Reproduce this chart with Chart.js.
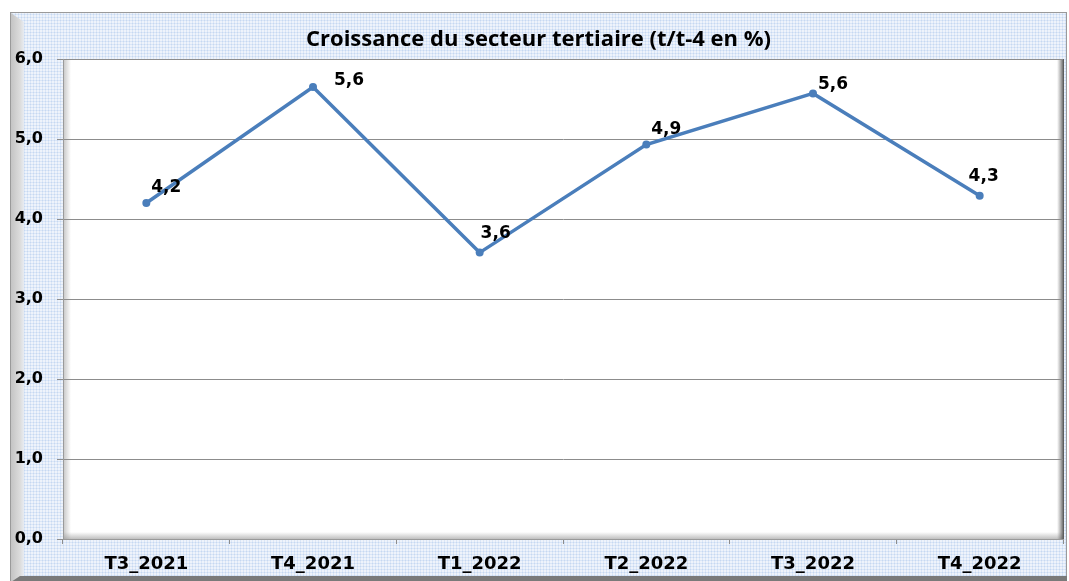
<!DOCTYPE html>
<html>
<head>
<meta charset="utf-8">
<script src="https://cdn.jsdelivr.net/npm/chart.js@4.4.0/dist/chart.umd.min.js"></script>
<style>
  html, body { margin: 0; padding: 0; background: #ffffff; width: 1069px; height: 581px; overflow: hidden; }
  #frame {
    position: absolute; left: 10px; top: 12px; width: 1057px; height: 575px;
    border: 1px solid #9a9a9a; box-sizing: border-box;
    background-color: #eef3fb;
    background-image: radial-gradient(circle, #c6d8f1 0.9px, transparent 1.1px);
    background-size: 3px 3px;
  }
  #leftband {
    position: absolute; left: 11px; top: 13px; width: 13px; height: 570px;
    background: linear-gradient(to right, #c4c4c4, #dcdcdc 70%, #e8ecf2);
    clip-path: polygon(0 0, 100% 9px, 100% 100%, 0 100%);
  }
  #bottomband {
    position: absolute; left: 11px; top: 576px; width: 1056px; height: 6px;
    background: #7a7a7a;
    clip-path: polygon(9px 0, 100% 0, 100% 100%, 0 100%);
  }
  #wrap { position: absolute; left: 0; top: 0; width: 1069px; height: 581px; }
</style>
</head>
<body>
<div id="frame"></div>
<div id="leftband"></div>
<div id="bottomband"></div>
<div id="wrap"><canvas id="c" width="1069" height="581"></canvas></div>
<script>
const categories = ["T3_2021", "T4_2021", "T1_2022", "T2_2022", "T3_2022", "T4_2022"];
const growth = [4.2, 5.65, 3.58, 4.93, 5.57, 4.29];
const valueLabels = ["4,2", "5,6", "3,6", "4,9", "5,6", "4,3"];
const yTicks = [0, 1, 2, 3, 4, 5, 6];
const chartTitle = "Croissance du secteur tertiaire (t/t-4 en %)";

const plotBg = {
  id: 'plotBg',
  beforeDraw(chart) {
    const { ctx, chartArea: a } = chart;
    ctx.save();
    ctx.fillStyle = '#ffffff';
    ctx.fillRect(a.left, a.top, a.right - a.left, a.bottom - a.top);
    let g = ctx.createLinearGradient(a.left, 0, a.left + 8, 0);
    g.addColorStop(0, 'rgba(150,150,150,0.55)');
    g.addColorStop(1, 'rgba(150,150,150,0)');
    ctx.fillStyle = g;
    ctx.fillRect(a.left, a.top, 8, a.bottom - a.top);
    g = ctx.createLinearGradient(0, a.bottom, 0, a.bottom - 7);
    g.addColorStop(0, 'rgba(150,150,150,0.6)');
    g.addColorStop(1, 'rgba(150,150,150,0)');
    ctx.fillStyle = g;
    ctx.fillRect(a.left, a.bottom - 7, a.right - a.left, 7);
    g = ctx.createLinearGradient(a.right - 6, 0, a.right + 1, 0);
    g.addColorStop(0, 'rgba(120,120,120,0)');
    g.addColorStop(1, 'rgba(70,70,70,0.95)');
    ctx.fillStyle = g;
    ctx.fillRect(a.right - 6, a.top, 7, a.bottom - a.top);
    ctx.strokeStyle = '#9a9a9a';
    ctx.lineWidth = 1;
    ctx.beginPath();
    ctx.moveTo(a.left, a.top + 0.5);
    ctx.lineTo(a.right, a.top + 0.5);
    ctx.stroke();
    ctx.restore();
  }
};

const valueLabelPlugin = {
  id: 'valueLabels',
  afterDatasetsDraw(chart, args, opts) {
    const { ctx } = chart;
    const meta = chart.getDatasetMeta(0);
    ctx.save();
    ctx.font = opts.font;
    ctx.fillStyle = opts.color;
    ctx.textAlign = 'center';
    ctx.textBaseline = 'middle';
    meta.data.forEach((pt, i) => {
      const off = opts.offsets[i];
      ctx.fillText(valueLabels[i], pt.x + off[0], pt.y + off[1]);
    });
    ctx.restore();
  }
};

new Chart(document.getElementById('c'), {
  type: 'line',
  data: {
    labels: categories,
    datasets: [{
      data: growth,
      borderColor: '#4a7ebb',
      backgroundColor: '#4a7ebb',
      borderWidth: 3.5,
      pointRadius: 4,
      pointHoverRadius: 4,
      pointBackgroundColor: '#4a7ebb',
      pointBorderWidth: 0,
      tension: 0,
      fill: false
    }]
  },
  options: {
    responsive: false,
    animation: false,
    events: [],
    layout: { padding: { left: 14, right: 6, top: 0, bottom: 0 } },
    plugins: {
      legend: { display: false },
      tooltip: { enabled: false },
      title: {
        display: true,
        text: chartTitle,
        color: '#000000',
        font: { family: 'Open Sans', size: 22, weight: 'bold', lineHeight: 1.2 },
        padding: { top: 27, bottom: 5.6 }
      },
      valueLabels: {
        font: 'bold 17px "DejaVu Sans"',
        color: '#000000',
        offsets: [[20, -15], [36, -6], [16, -19], [20, -15], [20, -9], [4, -19]]
      }
    },
    scales: {
      x: {
        type: 'category',
        offset: true,
        grid: { offset: true, drawOnChartArea: false, drawTicks: true, tickLength: 5, color: '#8c8c8c' },
        border: { display: true, color: '#9a9a9a' },
        ticks: { color: '#000000', padding: 10, font: { family: 'DejaVu Sans', size: 18, weight: 'bold' }, maxRotation: 0 },
        afterFit(scale) { scale.height = 42; }
      },
      y: {
        min: 0, max: 6,
        afterBuildTicks(scale) { scale.ticks = yTicks.map(v => ({ value: v })); },
        grid: { color: '#8c8c8c', lineWidth: 1, drawTicks: true, tickLength: 6 },
        border: { display: true, color: '#9a9a9a' },
        ticks: {
          color: '#000000', padding: 14,
          font: { family: 'DejaVu Sans', size: 16, weight: 'bold' },
          callback: (v) => Number(v).toFixed(1).replace('.', ',')
        },
        afterFit(scale) { scale.width = 49; }
      }
    }
  },
  plugins: [plotBg, valueLabelPlugin]
});
</script>
</body>
</html>
